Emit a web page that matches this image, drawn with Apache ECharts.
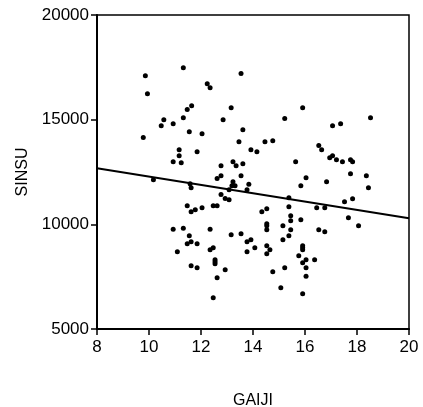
<!DOCTYPE html>
<html>
<head>
<meta charset="utf-8">
<title>SINSU vs GAIJI</title>
<script src="https://cdn.jsdelivr.net/npm/echarts@6/dist/echarts.min.js"></script>
<style>
  html, body { margin: 0; padding: 0; background: #fff; }
  #chart { width: 423px; height: 407px; }
</style>
</head>
<body>
<div id="chart"></div>
<script>
// Observations: GAIJI (x) and SINSU (y)
const gaiji = [
  9.86, 11.32, 9.94, 11.64, 11.47, 11.32, 10.57, 10.47, 10.93, 11.55,
  12.04, 9.78, 11.85, 11.16, 11.16, 10.93, 11.24, 13.54, 12.24, 12.35,
  13.16, 15.91, 12.85, 15.22, 13.61, 13.46, 14.46, 14.76, 13.92, 14.15,
  12.77, 13.23, 13.35, 13.61, 15.64, 12.77, 12.62, 13.54, 16.04, 18.52,
  17.06, 17.37, 16.53, 16.64, 16.95, 17.06, 17.21, 17.44, 17.75, 17.83,
  17.75, 18.36, 10.17, 11.58, 11.62, 11.47, 11.62, 11.78, 12.04, 10.93,
  11.32, 11.55, 11.47, 11.62, 11.85, 11.09, 11.62, 11.85, 13.23, 13.19,
  13.31, 13.84, 13.77, 13.08, 12.77, 12.93, 13.08, 15.84, 15.38, 12.47,
  12.62, 14.34, 14.53, 15.38, 15.45, 15.45, 15.84, 14.53, 14.53, 14.53,
  15.15, 15.45, 15.38, 15.15, 12.35, 13.16, 13.54, 13.92, 13.77, 14.07,
  13.77, 14.53, 14.65, 14.53, 12.47, 12.35, 12.54, 12.54, 12.54, 12.93,
  12.62, 12.47, 14.76, 15.22, 15.07, 15.91, 15.76, 15.91, 15.91, 15.91,
  16.04, 15.91, 16.04, 16.04, 16.83, 18.44, 17.52, 17.83, 16.45, 16.76,
  17.67, 18.06, 16.53, 16.76, 16.37
];
const sinsu = [
  17100, 17480, 16240, 15670, 15480, 15090, 15000, 14710, 14810, 14420,
  14330, 14150, 13470, 13560, 13280, 12990, 12940, 17200, 16720, 16530,
  15570, 15570, 15000, 15060, 14520, 13950, 13950, 13990, 13560, 13470,
  12800, 12990, 12800, 12900, 12990, 12320, 12190, 12320, 12230, 15090,
  14710, 14810, 13760, 13560, 13180, 13280, 13090, 12990, 13090, 12990,
  12420, 12320, 12130, 11940, 11750, 10890, 10600, 10700, 10790, 9760,
  9810, 9460, 9070, 9170, 9070, 8690, 8020, 7930, 12040, 11840,
  11840, 11910, 11650, 11650, 11430, 11240, 11180, 11840, 11270, 10890,
  10890, 10600, 10750, 10840, 10410, 10170, 10220, 10030, 9930, 9740,
  9930, 9740, 9460, 9260, 9760, 9500, 9550, 9260, 9170, 8880,
  8690, 8980, 8790, 8600, 8880, 8790, 8310, 8210, 8120, 7830,
  7450, 6490, 7730, 7930, 6970, 6680, 8500, 8980, 8880, 8790,
  8310, 8170, 7930, 7520, 12040, 11750, 11080, 11220, 10790, 10790,
  10320, 9930, 9740, 9650, 8310
];

// Fitted linear trend, evaluated at the axis ends
const fitX = [8, 20];
const fitY = [12675, 10290];

const xTicks = [8, 10, 12, 14, 16, 18, 20];
const yTicks = [5000, 10000, 15000, 20000];

const FONT = '"Liberation Sans", Arial, Helvetica, sans-serif';

const chart = echarts.init(document.getElementById('chart'), null, { renderer: 'canvas' });

chart.setOption({
  animation: false,
  backgroundColor: '#ffffff',
  grid: {
    left: 97, top: 15, right: 14, bottom: 78,
    outerBoundsMode: 'none',
    containLabel: false,
    show: true,
    borderColor: '#000',
    borderWidth: 1.5,
    backgroundColor: 'transparent'
  },
  xAxis: {
    type: 'value',
    min: xTicks[0],
    max: xTicks[xTicks.length - 1],
    interval: xTicks[1] - xTicks[0],
    name: 'GAIJI',
    nameLocation: 'middle',
    nameGap: 64,
    nameTextStyle: { color: '#000', fontFamily: FONT, fontSize: 16 },
    axisLine: { show: true, onZero: false, lineStyle: { color: '#000', width: 2 } },
    axisTick: { show: true, inside: false, length: 6, lineStyle: { color: '#000', width: 1.5 } },
    axisLabel: { color: '#000', fontFamily: FONT, fontSize: 17, margin: 10, formatter: v => String(v) },
    splitLine: { show: false }
  },
  yAxis: {
    type: 'value',
    min: yTicks[0],
    max: yTicks[yTicks.length - 1],
    interval: yTicks[1] - yTicks[0],
    name: 'SINSU',
    nameLocation: 'middle',
    nameGap: 64,
    nameTextStyle: { color: '#000', fontFamily: FONT, fontSize: 16 },
    axisLine: { show: true, onZero: false, lineStyle: { color: '#000', width: 2 } },
    axisTick: { show: true, inside: false, length: 6, lineStyle: { color: '#000', width: 1.5 } },
    axisLabel: { color: '#000', fontFamily: FONT, fontSize: 17, margin: 8, formatter: v => String(v) },
    splitLine: { show: false }
  },
  series: [
    {
      type: 'scatter',
      data: gaiji.map((g, i) => [g, sinsu[i]]),
      symbol: 'circle',
      symbolSize: 5,
      itemStyle: { color: '#000', opacity: 1 },
      silent: true
    },
    {
      type: 'line',
      data: fitX.map((g, i) => [g, fitY[i]]),
      symbol: 'none',
      lineStyle: { color: '#000', width: 2 },
      silent: true
    }
  ]
});
</script>
</body>
</html>
